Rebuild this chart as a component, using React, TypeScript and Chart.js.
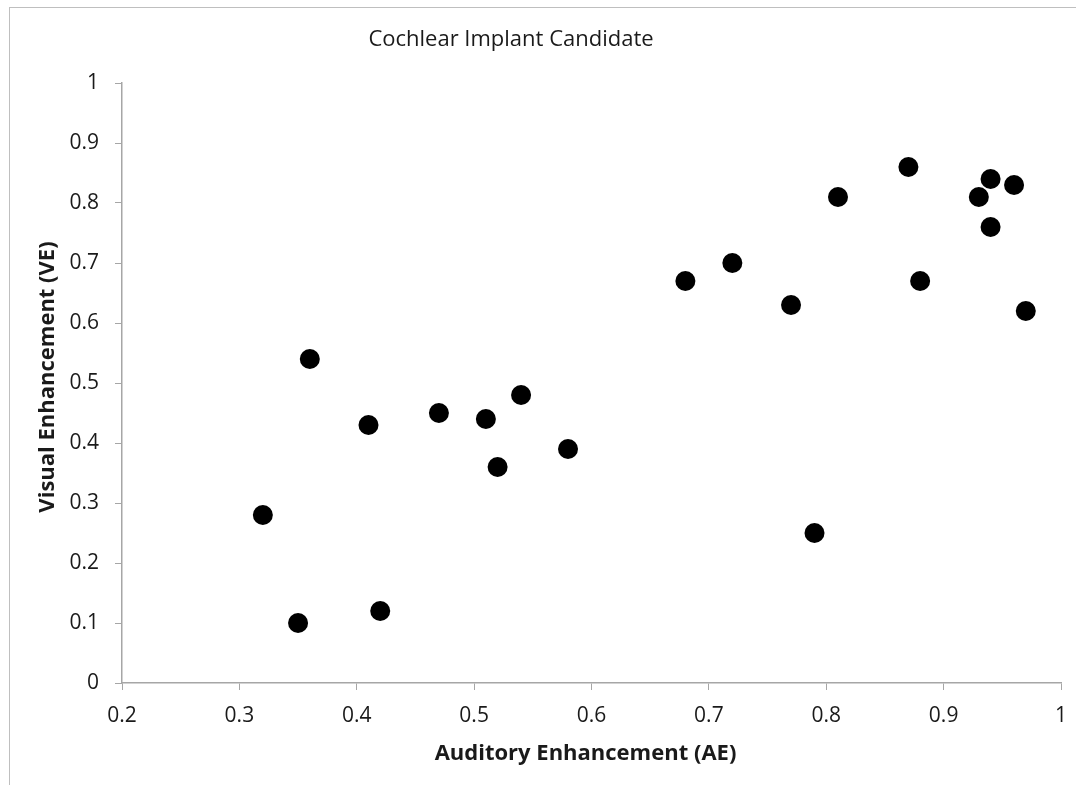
import React, { useEffect, useRef } from "react";
import { Chart, registerables } from "chart.js";

Chart.register(...registerables);

const chartTitle = "Cochlear Implant Candidate";
const xAxisTitle = "Auditory Enhancement (AE)";
const yAxisTitle = "Visual Enhancement (VE)";

const aeValues = [0.32, 0.35, 0.36, 0.41, 0.42, 0.47, 0.51, 0.52, 0.54, 0.58, 0.68, 0.72, 0.77, 0.79, 0.81, 0.87, 0.88, 0.93, 0.94, 0.94, 0.96, 0.97];
const veValues = [0.28, 0.10, 0.54, 0.43, 0.12, 0.45, 0.44, 0.36, 0.48, 0.39, 0.67, 0.70, 0.63, 0.25, 0.81, 0.86, 0.67, 0.81, 0.84, 0.76, 0.83, 0.62];

const FONT = "'Open Sans', 'Liberation Sans', sans-serif";
const AXIS_COLOR = "#a6a6a6";
const TEXT_COLOR = "#1a1a1a";

const fmt = (v: number | string) => {
  const n = Math.round(Number(v) * 10) / 10;
  return String(n);
};

// canvas is shifted left so that the title centres where the reference has it
const SHIFT = 39;
const CANVAS_W = 1076 + SHIFT;
const CANVAS_H = 785;

// nudge an axis title along its axis (reference titles sit slightly off-centre)
const nudgeTitle = (scale: any, dx: number, dy: number) => {
  if (scale._titleNudged) return;
  scale._titleNudged = true;
  const orig = scale.drawTitle;
  scale.drawTitle = function (...args: any[]) {
    const ctx = this.ctx;
    ctx.save();
    ctx.translate(dx, dy);
    orig.apply(this, args);
    ctx.restore();
  };
};

export default function App() {
  const canvasRef = useRef<HTMLCanvasElement | null>(null);

  useEffect(() => {
    if (!canvasRef.current) return;
    const points = aeValues.map((x, i) => ({ x, y: veValues[i] }));
    const chart = new Chart(canvasRef.current, {
      type: "scatter",
      data: {
        datasets: [
          {
            data: points,
            backgroundColor: "#000000",
            borderWidth: 0,
            pointRadius: 10,
            pointHoverRadius: 10,
          },
        ],
      },
      options: {
        animation: false,
        responsive: false,
        devicePixelRatio: 1,
        events: [],
        layout: { padding: { left: 0, right: 15, top: 0, bottom: 0 } },
        plugins: {
          legend: { display: false },
          tooltip: { enabled: false },
          title: {
            display: true,
            text: chartTitle,
            color: TEXT_COLOR,
            font: { family: FONT, size: 22, weight: "normal", lineHeight: 1.2 },
            padding: { top: 27, bottom: 29.6 },
          },
        },
        scales: {
          x: {
            type: "linear",
            min: 0.2,
            max: 1,
            ticks: {
              stepSize: 0.1,
              color: TEXT_COLOR,
              font: { family: FONT, size: 21 },
              padding: 13.4,
              maxRotation: 0,
              callback: (v: any) => fmt(v),
            },
            grid: {
              display: true,
              drawOnChartArea: false,
              drawTicks: true,
              tickLength: 7,
              color: AXIS_COLOR,
              lineWidth: 1,
            },
            border: { display: true, color: AXIS_COLOR, width: 1.5 },
            title: {
              display: true,
              text: xAxisTitle,
              color: TEXT_COLOR,
              font: { family: FONT, size: 22, weight: "bold", lineHeight: 1.2 },
              padding: { top: 0, bottom: 18.5 },
            },
            afterFit: (scale: any) => {
              scale.height = 102;
              scale.paddingLeft = 0;
              scale.paddingRight = 0;
              nudgeTitle(scale, -6, 0);
            },
          },
          y: {
            type: "linear",
            min: 0,
            max: 1,
            ticks: {
              stepSize: 0.1,
              color: TEXT_COLOR,
              font: { family: FONT, size: 21 },
              padding: 16,
              callback: (v: any) => fmt(v),
            },
            grid: {
              display: true,
              drawOnChartArea: false,
              drawTicks: true,
              tickLength: 7,
              color: AXIS_COLOR,
              lineWidth: 1,
            },
            border: { display: true, color: AXIS_COLOR, width: 1.5 },
            title: {
              display: true,
              text: yAxisTitle,
              color: TEXT_COLOR,
              font: { family: FONT, size: 22, weight: "bold", lineHeight: 1.2 },
              padding: { top: 34.8 + SHIFT, bottom: 0 },
            },
            afterFit: (scale: any) => {
              scale.width = 122 + SHIFT;
              scale.paddingTop = 0;
              scale.paddingBottom = 0;
              nudgeTitle(scale, 0, -6);
            },
          },
        },
      },
    });
    return () => chart.destroy();
  }, []);

  return (
    <div style={{ position: "fixed", left: 0, top: 0, width: 1076, height: 785, background: "#ffffff", overflow: "hidden" }}>
      <div
        style={{
          position: "absolute",
          left: 9,
          top: 7,
          width: 1200,
          height: 900,
          borderLeft: "1.5px solid #bfbfbf",
          borderTop: "1.5px solid #bfbfbf",
        }}
      />
      <canvas
        ref={canvasRef}
        width={CANVAS_W}
        height={CANVAS_H}
        style={{ position: "absolute", left: -SHIFT, top: 0, width: CANVAS_W, height: CANVAS_H }}
      />
    </div>
  );
}
